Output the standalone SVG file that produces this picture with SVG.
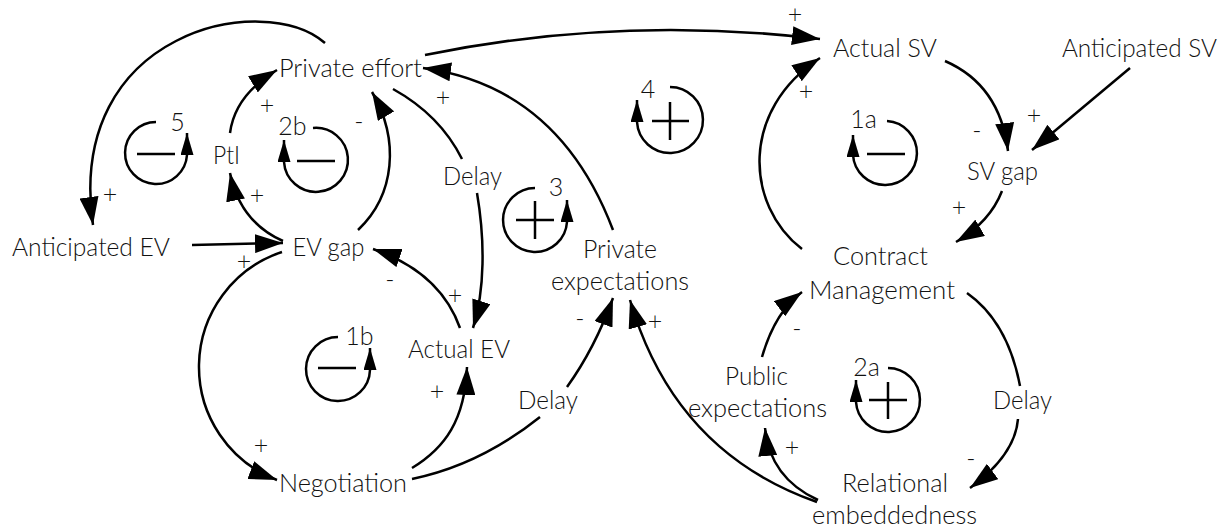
<svg xmlns="http://www.w3.org/2000/svg" width="1232" height="531" viewBox="0 0 1232 531">
<style>
  .lbl { font-family: Lato, "Liberation Sans", sans-serif; font-weight: 300; font-size: 25px; fill: #111; text-anchor: middle; }
  .sgn { font-family: Lato, "Liberation Sans", sans-serif; font-weight: 300; font-size: 25px; fill: #111; text-anchor: middle; }
  .ln { fill: none; stroke: #000; stroke-width: 2.5; }
  .arr { marker-end: url(#ah); }
  .lp { fill: none; stroke: #000; stroke-width: 2.5; marker-end: url(#ahs); }
  .sym { fill: none; stroke: #000; stroke-width: 2.5; }
</style>
<defs>
  <marker id="ah" markerUnits="userSpaceOnUse" viewBox="0 0 28 19" markerWidth="28" markerHeight="19" refX="28" refY="9.5" orient="auto">
    <path d="M0,0 L28,9.5 L0,19 Z" fill="#000"/>
  </marker>
  <marker id="ahs" markerUnits="userSpaceOnUse" viewBox="0 0 22 13" markerWidth="22" markerHeight="13" refX="22" refY="6.5" orient="auto">
    <path d="M0,0 L22,6.5 L0,13 Z" fill="#000"/>
  </marker>
</defs>
<rect width="1232" height="531" fill="#fff"/>

<g id="connectors">
  <!-- Private effort -> Anticipated EV -->
  <path class="ln arr" d="M 325 43 C 265 -10, 65 30, 93 225"/>
  <!-- Anticipated EV -> EV gap -->
  <path class="ln arr" d="M 192 245 L 283 243"/>
  <!-- EV gap -> Negotiation -->
  <path class="ln arr" d="M 282 252 A 121 121 0 0 0 277 480"/>
  <!-- Negotiation -> Actual EV -->
  <path class="ln arr" d="M 412 468 C 445 448, 465 420, 467 367"/>
  <!-- Negotiation -> Private expectations (Delay) -->
  <path class="ln arr" d="M 412 479 Q 480 465 540 417 M 567 387 Q 595 348 613 298"/>
  <!-- Relational embeddedness -> Private expectations -->
  <path class="ln arr" d="M 817 502 C 740 475, 665 420, 630 300"/>
  <!-- Relational embeddedness -> Public expectations -->
  <path class="ln arr" d="M 818 500 Q 770 478 765 428"/>
  <!-- Public expectations -> Contract Management -->
  <path class="ln arr" d="M 762 357 Q 775 312 802 292"/>
  <!-- Contract Management -> Relational embeddedness (Delay) -->
  <path class="ln arr" d="M 967 293 Q 1008 322 1020 386 M 1018 419 Q 1015 455 970 488"/>
  <!-- Contract Management -> Actual SV -->
  <path class="ln arr" d="M 802 249 C 745 205, 740 110, 820 58"/>
  <!-- Private effort -> Actual SV -->
  <path class="ln arr" d="M 425 55 Q 620 15 820 39"/>
  <!-- Actual SV -> SV gap -->
  <path class="ln arr" d="M 945 61 Q 1000 85 1008 151"/>
  <!-- Anticipated SV -> SV gap -->
  <path class="ln arr" d="M 1130 68 L 1032 150"/>
  <!-- SV gap -> Contract Management -->
  <path class="ln arr" d="M 1002 191 Q 990 222 956 242"/>
  <!-- EV gap -> PtI -->
  <path class="ln arr" d="M 283 241 Q 240 222 230 173"/>
  <!-- PtI -> Private effort -->
  <path class="ln arr" d="M 230 133 Q 235 95 277 70"/>
  <!-- EV gap -> Private effort -->
  <path class="ln arr" d="M 358 230 C 395 195, 400 140, 372 92"/>
  <!-- Private effort -> Actual EV (Delay) -->
  <path class="ln arr" d="M 393 89 Q 440 115 462 159 M 477 193 C 485 240, 485 290, 473 328"/>
  <!-- Actual EV -> EV gap -->
  <path class="ln arr" d="M 460 328 Q 440 272 373 249"/>
  <!-- Private expectations -> Private effort -->
  <path class="ln arr" d="M 613 230 C 575 130, 510 80, 423 68"/>

  <g id="polarities">
    <text class="sgn" x="795" y="23">+</text>
    <text class="sgn" x="806" y="100">+</text>
    <text class="sgn" x="110" y="203">+</text>
    <text class="sgn" x="267" y="114">+</text>
    <text class="sgn" x="359" y="130">-</text>
    <text class="sgn" x="257" y="204">+</text>
    <text class="sgn" x="244" y="270">+</text>
    <text class="sgn" x="443" y="106">+</text>
    <text class="sgn" x="390" y="288">-</text>
    <text class="sgn" x="455" y="304">+</text>
    <text class="sgn" x="437" y="400">+</text>
    <text class="sgn" x="261" y="454">+</text>
    <text class="sgn" x="580" y="327">-</text>
    <text class="sgn" x="655" y="330">+</text>
    <text class="sgn" x="797" y="337">-</text>
    <text class="sgn" x="792" y="456">+</text>
    <text class="sgn" x="971" y="467">-</text>
    <text class="sgn" x="977" y="139">-</text>
    <text class="sgn" x="1034" y="124">+</text>
    <text class="sgn" x="959" y="216">+</text>
  </g>
</g>

<g id="node-private-effort"><text class="lbl" x="350.5" y="76.5" textLength="143" lengthAdjust="spacingAndGlyphs">Private effort</text></g>
<g id="node-actual-sv"><text class="lbl" x="885" y="56.5" textLength="104" lengthAdjust="spacingAndGlyphs">Actual SV</text></g>
<g id="node-anticipated-sv"><text class="lbl" x="1139.5" y="56.5" textLength="155" lengthAdjust="spacingAndGlyphs">Anticipated SV</text></g>
<g id="node-pti"><text class="lbl" x="226.5" y="164" textLength="27" lengthAdjust="spacingAndGlyphs">PtI</text></g>
<g id="node-anticipated-ev"><text class="lbl" x="91" y="256" textLength="158" lengthAdjust="spacingAndGlyphs">Anticipated EV</text></g>
<g id="node-ev-gap"><text class="lbl" x="328.5" y="256" textLength="72" lengthAdjust="spacingAndGlyphs">EV gap</text></g>
<g id="node-delay-1"><text class="lbl" x="472.5" y="185" textLength="59" lengthAdjust="spacingAndGlyphs">Delay</text></g>
<g id="node-private-expectations">
  <text class="lbl" x="620" y="258" textLength="74" lengthAdjust="spacingAndGlyphs">Private</text>
  <text class="lbl" x="620" y="290" textLength="138" lengthAdjust="spacingAndGlyphs">expectations</text>
</g>
<g id="node-sv-gap"><text class="lbl" x="1002.5" y="180" textLength="71" lengthAdjust="spacingAndGlyphs">SV gap</text></g>
<g id="node-contract-management">
  <text class="lbl" x="880.5" y="265" textLength="95" lengthAdjust="spacingAndGlyphs">Contract</text>
  <text class="lbl" x="882" y="299" textLength="146" lengthAdjust="spacingAndGlyphs">Management</text>
</g>
<g id="node-actual-ev"><text class="lbl" x="459" y="358" textLength="102" lengthAdjust="spacingAndGlyphs">Actual EV</text></g>
<g id="node-delay-2"><text class="lbl" x="548" y="409" textLength="60" lengthAdjust="spacingAndGlyphs">Delay</text></g>
<g id="node-public-expectations">
  <text class="lbl" x="756.5" y="385" textLength="63" lengthAdjust="spacingAndGlyphs">Public</text>
  <text class="lbl" x="757.5" y="417" textLength="139" lengthAdjust="spacingAndGlyphs">expectations</text>
</g>
<g id="node-negotiation"><text class="lbl" x="343" y="492" textLength="128" lengthAdjust="spacingAndGlyphs">Negotiation</text></g>
<g id="node-relational-embeddedness">
  <text class="lbl" x="895" y="492" textLength="106" lengthAdjust="spacingAndGlyphs">Relational</text>
  <text class="lbl" x="894.5" y="524" textLength="165" lengthAdjust="spacingAndGlyphs">embeddedness</text>
</g>
<g id="node-delay-3"><text class="lbl" x="1022.5" y="409" textLength="59" lengthAdjust="spacingAndGlyphs">Delay</text></g>

<g id="loop-5">
  <path class="lp" d="M 156 122 A 31 31 0 1 0 187 155 L 187 133"/>
  <line class="sym" x1="137" y1="154" x2="175" y2="154"/>
  <text class="lbl" x="177.5" y="131">5</text>
</g>
<g id="loop-2b">
  <path class="lp" d="M 313 128 A 32 32 0 1 1 284 162 L 284 140"/>
  <line class="sym" x1="297" y1="161" x2="335" y2="161"/>
  <text class="lbl" x="292.5" y="135">2b</text>
</g>
<g id="loop-4">
  <path class="lp" d="M 670 87 A 33 33 0 1 1 637 122 L 637 100"/>
  <line class="sym" x1="652" y1="121" x2="689" y2="121"/>
  <line class="sym" x1="670" y1="102" x2="670" y2="140"/>
  <text class="lbl" x="648" y="98">4</text>
</g>
<g id="loop-3">
  <path class="lp" d="M 535 188 A 32 32 0 1 0 567 222 L 567 200"/>
  <line class="sym" x1="516" y1="220" x2="554" y2="220"/>
  <line class="sym" x1="535" y1="201" x2="535" y2="239"/>
  <text class="lbl" x="556" y="196">3</text>
</g>
<g id="loop-1a">
  <path class="lp" d="M 887 121 A 32 32 0 1 1 853 155 L 853 135"/>
  <line class="sym" x1="867" y1="154" x2="905" y2="154"/>
  <text class="lbl" x="863.5" y="128">1a</text>
</g>
<g id="loop-1b">
  <path class="lp" d="M 338 337 A 32 32 0 1 0 370 370 L 370 348"/>
  <line class="sym" x1="318" y1="368" x2="356" y2="368"/>
  <text class="lbl" x="359.5" y="345">1b</text>
</g>
<g id="loop-2a">
  <path class="lp" d="M 888 368 A 32 32 0 1 1 856 402 L 856 380"/>
  <line class="sym" x1="869" y1="400" x2="907" y2="400"/>
  <line class="sym" x1="888" y1="382" x2="888" y2="419"/>
  <text class="lbl" x="866.5" y="376">2a</text>
</g>
</svg>
